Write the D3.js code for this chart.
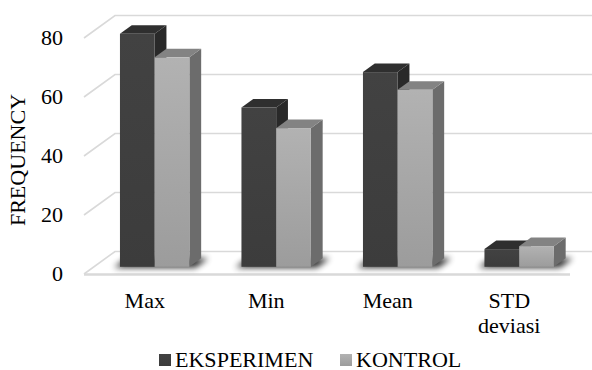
<!DOCTYPE html>
<html>
<head>
<meta charset="utf-8">
<script src="https://cdn.jsdelivr.net/npm/d3@7"></script>
<style>
  html, body { margin: 0; padding: 0; background: #fff; }
  svg { display: block; }
</style>
</head>
<body>
<svg id="chart" width="592" height="370"></svg>
<script>
// Data
const categories = ["Max", "Min", "Mean", "STD deviasi"];
const seriesNames = ["EKSPERIMEN", "KONTROL"];
const eksperimen = [79, 54, 66, 6];
const kontrol = [71, 47, 60, 7];
const yTicks = [0, 20, 40, 60, 80];
const yTitle = "FREQUENCY";

const W = 592, H = 370;
const FONT = "'Liberation Serif', Tinos, monospace";
const svg = d3.select("#chart");
const defs = svg.append("defs");

// Oblique 3D projection: depth runs from the front plane (0) to the back wall (1)
const DX = 31, DY = 22.5;
const x = d3.scaleBand().domain(categories).range([84, 570]).paddingInner(0).paddingOuter(0);
const y = d3.scaleLinear().domain([0, 80]).range([274, 38]);
const proj = (px, v, d) => [px + d * DX, y(v) - d * DY];

const gapWidth = 1.5;               // gap between groups, in bar widths
const barW = x.step() / (2 + gapWidth);
const depth0 = 0.32, depth1 = 0.70; // bar depth span inside the floor

const seriesData = [eksperimen, kontrol];
const seriesStyle = [
  { front: "gradE", top: "#2f2f2f", side: "#292929" },
  { front: "gradK", top: "#838383", side: "#6c6c6c" }
];

// Gradients for the front faces
function vGrad(id, c0, c1) {
  const g = defs.append("linearGradient").attr("id", id)
    .attr("x1", 0).attr("y1", 0).attr("x2", 0).attr("y2", 1);
  g.append("stop").attr("offset", "0%").attr("stop-color", c0);
  g.append("stop").attr("offset", "100%").attr("stop-color", c1);
}
vGrad("gradE", "#424242", "#3c3c3c");
vGrad("gradK", "#b2b2b2", "#9c9c9c");

defs.append("filter").attr("id", "soft")
  .attr("x", "-30%").attr("y", "-100%").attr("width", "160%").attr("height", "300%")
  .append("feGaussianBlur").attr("stdDeviation", 3.2);

const textScale = 1.05;
function label(parent, tx, ty, str, anchor, size, rot) {
  const g = parent.append("g").attr("transform", `translate(${tx},${ty})` + (rot ? ` rotate(${rot})` : ""));
  return g.append("text")
    .attr("transform", `scale(${textScale},1)`)
    .attr("text-anchor", anchor)
    .style("font-family", FONT)
    .style("font-size", size + "px")
    .style("fill", "#000")
    .text(str);
}

const grid = svg.append("g");
const gridColor = "#d9d9d9";

// Gridlines: side-wall diagonal plus back-wall horizontal
yTicks.forEach(t => {
  const f = proj(84, t, 0), b = proj(84, t, 1);
  grid.append("path")
    .attr("d", `M${f[0]},${f[1]}L${b[0]},${b[1]}L${W},${b[1]}`)
    .attr("fill", "none").attr("stroke", gridColor).attr("stroke-width", 1.6);
});
// Floor front edge
const floorL = proj(84, 0, 0), floorR = proj(570, 0, 0);
grid.append("line")
  .attr("x1", floorL[0]).attr("y1", floorL[1] + 0.5)
  .attr("x2", floorR[0]).attr("y2", floorR[1] + 0.5)
  .attr("stroke", gridColor).attr("stroke-width", 2.6);

// Y tick labels and title
const yAxis = svg.append("g");
yTicks.forEach(t => {
  label(yAxis, 63, y(t) + 7, d3.format("d")(t), "end", 21);
});
label(yAxis, 25, 160, yTitle, "middle", 21, -90);

// Bars
const bars = svg.append("g");
categories.forEach((c, i) => {
  const groupLeft = x(c) + x.bandwidth() / 2 - barW;

  // Soft contact shadow under the group
  const sx0 = groupLeft - 5, sx1 = groupLeft + 2 * barW + 7;
  const sh = [proj(sx0, 0, depth0 - 0.03), proj(sx1, 0, depth0 - 0.03), proj(sx1, 0, depth1), proj(sx0, 0, depth1)];
  bars.append("polygon")
    .attr("points", sh.map(p => p.join(",")).join(" "))
    .attr("fill", "#000").attr("opacity", 0.85)
    .attr("filter", "url(#soft)");

  seriesData.forEach((vals, s) => {
    const v = vals[i];
    const st = seriesStyle[s];
    const fx0 = groupLeft + s * barW, fx1 = fx0 + barW;
    const a = proj(fx0, v, depth0), b = proj(fx1, v, depth0);
    const a0 = proj(fx0, 0, depth0);
    const bb = proj(fx1, v, depth1), ab = proj(fx0, v, depth1);
    const b0 = proj(fx1, 0, depth0), bb0 = proj(fx1, 0, depth1);

    bars.append("polygon")
      .attr("points", [b, bb, bb0, b0].map(p => p.join(",")).join(" "))
      .attr("fill", st.side);
    bars.append("polygon")
      .attr("points", [a, b, bb, ab].map(p => p.join(",")).join(" "))
      .attr("fill", st.top);
    bars.append("rect")
      .attr("x", a[0]).attr("y", a[1])
      .attr("width", b[0] - a[0]).attr("height", a0[1] - a[1])
      .attr("fill", `url(#${st.front})`);
  });
});

// Category labels, wrapped onto separate lines
const xAxis = svg.append("g");
categories.forEach(c => {
  const cx = x(c) + x.bandwidth() / 2;
  c.split(" ").forEach((w, k) => {
    label(xAxis, cx, 308 + k * 25, w, "middle", 21);
  });
});

// Legend
const legend = svg.append("g");
const legendX = [159, 340];
seriesNames.forEach((n, s) => {
  legend.append("rect")
    .attr("x", legendX[s]).attr("y", 354).attr("width", 12).attr("height", 12)
    .attr("fill", `url(#${seriesStyle[s].front})`);
  label(legend, legendX[s] + 16, 366.5, n, "start", 21);
});
</script>
</body>
</html>
